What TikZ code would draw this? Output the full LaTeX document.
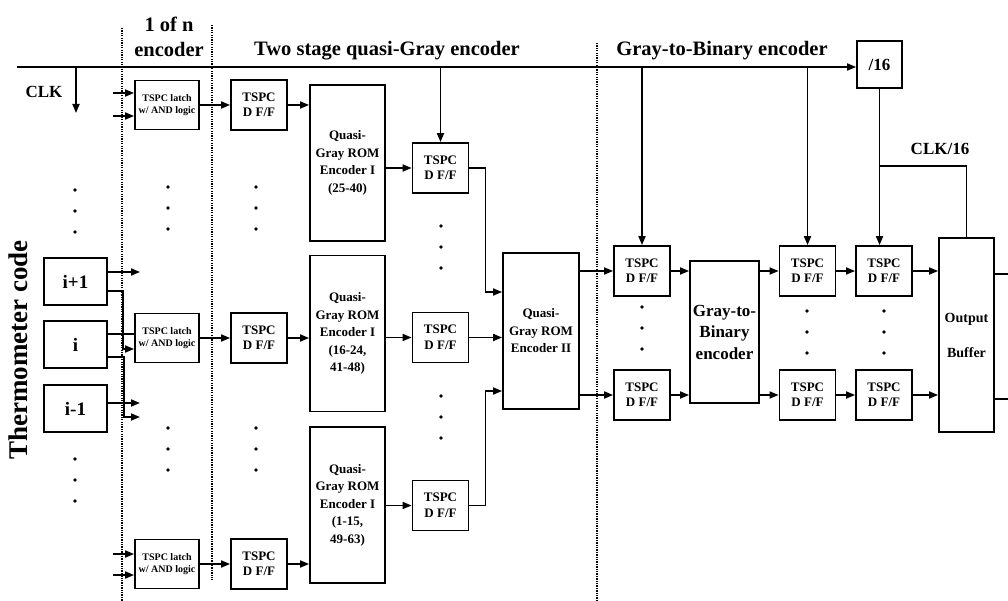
\documentclass[tikz,border=0pt]{standalone}
\usepackage{fontspec}
\setmainfont{Liberation Serif}
\usetikzlibrary{arrows.meta}

\tikzset{
  blk/.style={draw, line width=1.8pt, inner sep=0pt, align=center},
  dff/.style={blk, minimum width=56pt, minimum height=50pt, font=\bfseries\fontsize{13}{15.5}\selectfont},
  latch/.style={blk, minimum width=64pt, minimum height=49pt, font=\bfseries\fontsize{10}{12.5}\selectfont},
  rom/.style={blk, minimum width=75pt, minimum height=156pt, font=\bfseries\fontsize{13}{17.5}\selectfont},
  tcode/.style={blk, minimum width=63pt, minimum height=47pt, font=\bfseries\fontsize{19}{21}\selectfont},
  lbl/.style={font=\bfseries\fontsize{17}{19}\selectfont, inner sep=0pt},
  hdr/.style={font=\bfseries\fontsize{20.5}{24}\selectfont, inner sep=0pt, anchor=base},
  wire/.style={line width=1.7pt},
  arr/.style={wire, -{Triangle[length=9pt,width=7pt]}},
  divider/.style={line width=1.5pt, dash pattern=on 1.3pt off 1.1pt},
}

\begin{document}
\begin{tikzpicture}[x=1pt, y=-1pt]
    \useasboundingbox (0,0) rectangle (1008,601);

    % headings
    \node[hdr] (hdr-onen) at (169,32) {1 of n};
    \node[hdr] (hdr-onen2) at (169,57) {encoder};
    \node[hdr] (hdr-qg) at (387,56) {Two stage quasi-Gray encoder};
    \node[hdr] (hdr-g2b) at (722,56) {Gray-to-Binary encoder};

    \draw[divider] (122,28) -- (122,601);
    \draw[divider] (212,25) -- (212,580);
    \draw[divider] (597,43) -- (597,601);

    \node[font=\bfseries\fontsize{27}{30}\selectfont, rotate=90, inner sep=0pt] (tcode-lbl) at (18,350) {Thermometer code};

    % thermometer inputs
    \node[tcode] (t-ip1) at (75.5,281.5) {i+1};
    \node[tcode] (t-i) at (75.5,344.5) {i};
    \node[tcode] (t-im1) at (75.5,408.5) {i-1};

    % 1 of n encoder
    \node[latch] (latch-top) at (167,105) {TSPC latch\\w/ AND logic};
    \node[latch] (latch-mid) at (167,338) {TSPC latch\\w/ AND logic};
    \node[latch] (latch-bot) at (167,564) {TSPC latch\\w/ AND logic};

    % two stage quasi-Gray encoder
    \node[dff] (dff-a-top) at (259,105) {TSPC\\D F/F};
    \node[dff] (dff-a-mid) at (259,338) {TSPC\\D F/F};
    \node[dff] (dff-a-bot) at (259,564) {TSPC\\D F/F};
    \node[rom] (rom1-top) at (347.5,163) {Quasi-\\Gray ROM\\Encoder I\\(25-40)};
    \node[rom] (rom1-mid) at (347.5,333.5) {Quasi-\\Gray ROM\\Encoder I\\(16-24,\\41-48)};
    \node[rom] (rom1-bot) at (347.5,505) {Quasi-\\Gray ROM\\Encoder I\\(1-15,\\49-63)};
    \node[dff] (dff-b-top) at (440.5,168) {TSPC\\D F/F};
    \node[dff] (dff-b-mid) at (440.5,337.5) {TSPC\\D F/F};
    \node[dff] (dff-b-bot) at (440.5,505.5) {TSPC\\D F/F};
    \node[rom, minimum width=76pt] (rom2) at (541,331) {Quasi-\\Gray ROM\\Encoder II};

    % gray-to-binary encoder
    \node[dff] (dff-c-top) at (642,271) {TSPC\\D F/F};
    \node[dff] (dff-c-bot) at (642,395) {TSPC\\D F/F};
    \node[blk, minimum width=69pt, minimum height=142pt, font=\bfseries\fontsize{17}{21.5}\selectfont] (g2b) at (724.5,332) {Gray-to-\\Binary\\encoder};
    \node[dff] (dff-d-top) at (807.5,271) {TSPC\\D F/F};
    \node[dff] (dff-d-bot) at (807.5,395) {TSPC\\D F/F};
    \node[dff] (dff-e-top) at (884,271) {TSPC\\D F/F};
    \node[dff] (dff-e-bot) at (884,395) {TSPC\\D F/F};
    \node[blk, minimum width=55pt, minimum height=194pt, font=\bfseries\fontsize{14}{35}\selectfont] (outbuf) at (966.5,335) {Output\\Buffer};
    \node[blk, minimum width=45pt, minimum height=47pt, font=\bfseries\fontsize{17}{19}\selectfont] (div16) at (879.5,64.5) {/16};

    % clock
    \node[lbl] (clk-lbl) at (44,92) {CLK};
    \node[lbl] (clk16-lbl) at (940,149) {CLK/16};
    \coordinate (clk-in) at (17,67);
    \coordinate (clk-dn) at (76,113);
    \coordinate (clk16-tap) at (879.5,166);
    \draw[arr] (clk-in) -- (clk-in -| div16.west);
    \draw[arr] (clk-dn |- clk-in) -- (clk-dn);
    \draw[arr] (dff-b-top.north |- clk-in) -- (dff-b-top.north);
    \draw[arr] (dff-c-top.north |- clk-in) -- (dff-c-top.north);
    \draw[arr] (dff-d-top.north |- clk-in) -- (dff-d-top.north);
    \draw[arr] (div16.south) -- (div16.south |- dff-e-top.north);
    \draw[wire] (clk16-tap) -| (outbuf.north);

    % thermometer code to latches
    \coordinate (ip1-out) at (140,272);
    \coordinate (im1-out) at (140,403);
    \coordinate (i-low-out) at (140,417);
    \draw[arr] (t-ip1.east |- ip1-out) -- (ip1-out);
    \draw[arr] (t-ip1.east |- 0,291) -- (123,291) -- (123,349) -- (latch-mid.west |- 0,349);
    \draw[wire] (t-i.east |- 0,334) -- (latch-mid.west |- 0,334);
    \draw[arr] (t-i.east |- 0,357) -- (124,357) -- (124,417) -- (i-low-out);
    \draw[arr] (t-im1.east |- im1-out) -- (im1-out);
    \coordinate (lt-in1) at (113,93);
    \coordinate (lt-in2) at (113,116);
    \coordinate (lb-in1) at (113,554);
    \coordinate (lb-in2) at (113,575);
    \draw[arr] (lt-in1) -- (lt-in1 -| latch-top.west);
    \draw[arr] (lt-in2) -- (lt-in2 -| latch-top.west);
    \draw[arr] (lb-in1) -- (lb-in1 -| latch-bot.west);
    \draw[arr] (lb-in2) -- (lb-in2 -| latch-bot.west);

    % data path
    \draw[arr] (latch-top) -- (dff-a-top);
    \draw[arr] (latch-mid) -- (dff-a-mid);
    \draw[arr] (latch-bot) -- (dff-a-bot);
    \draw[arr] (dff-a-top) -- (dff-a-top -| rom1-top.west);
    \draw[arr] (dff-a-mid) -- (dff-a-mid -| rom1-mid.west);
    \draw[arr] (dff-a-bot) -- (dff-a-bot -| rom1-bot.west);
    \draw[arr] (rom1-top.east |- dff-b-top) -- (dff-b-top.west);
    \draw[arr] (rom1-mid.east |- dff-b-mid) -- (dff-b-mid.west);
    \draw[arr] (rom1-bot.east |- dff-b-bot) -- (dff-b-bot.west);
    \draw[arr] (dff-b-top.east) -- ++(16,0) |- (rom2.west |- 0,292);
    \draw[arr] (dff-b-mid.east) -- (rom2.west |- dff-b-mid);
    \draw[arr] (dff-b-bot.east) -- ++(16,0) |- (rom2.west |- 0,391);
    \draw[arr] (rom2.east |- dff-c-top) -- (dff-c-top.west);
    \draw[arr] (rom2.east |- dff-c-bot) -- (dff-c-bot.west);
    \draw[arr] (dff-c-top) -- (g2b.west |- dff-c-top);
    \draw[arr] (dff-c-bot) -- (g2b.west |- dff-c-bot);
    \draw[arr] (g2b.east |- dff-d-top) -- (dff-d-top.west);
    \draw[arr] (g2b.east |- dff-d-bot) -- (dff-d-bot.west);
    \draw[arr] (dff-d-top) -- (dff-e-top);
    \draw[arr] (dff-d-bot) -- (dff-e-bot);
    \draw[arr] (dff-e-top) -- (outbuf.west |- dff-e-top);
    \draw[arr] (dff-e-bot) -- (outbuf.west |- dff-e-bot);
    \coordinate (out-top) at (1008,274);
    \coordinate (out-bot) at (1008,399);
    \draw[wire] (outbuf.east |- out-top) -- (out-top);
    \draw[wire] (outbuf.east |- out-bot) -- (out-bot);

    % vertical dots
    \foreach \x/\y in {75/190, 75/459, 168/187, 168/428, 256/187, 256/428, 441/226, 441/396, 642/307, 807/311, 884/311}
      \foreach \k in {0,1,2}
        \fill (\x,\y+21*\k) circle (1.8pt);
\end{tikzpicture}
\end{document}
